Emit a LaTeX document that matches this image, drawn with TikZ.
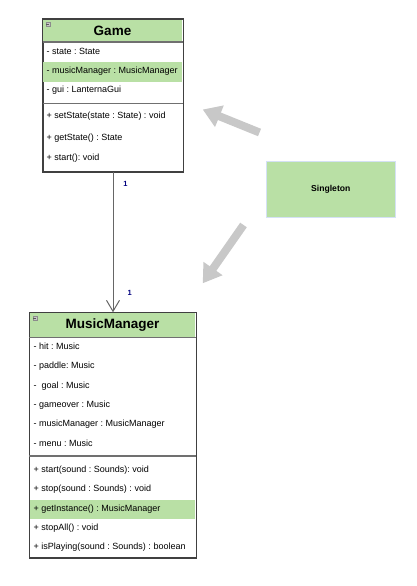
\documentclass[tikz,border=0pt]{standalone}
\usepackage{fontspec}
\setmainfont{Liberation Sans}
\usetikzlibrary{arrows.meta}
\definecolor{hdr}{HTML}{B9E0A5}
\definecolor{bord}{HTML}{404040}
\definecolor{sepc}{HTML}{707070}
\definecolor{blk}{HTML}{C8C8C8}
\definecolor{lbl}{HTML}{00007F}
\definecolor{sgb}{HTML}{D4E1F5}
\tikzset{
  classbox/.style={draw=bord, line width=1pt, fill=white, inner sep=0, anchor=north west},
  headbox/.style={fill=hdr, inner sep=0, anchor=north west},
  hlrow/.style={fill=hdr, inner sep=0, anchor=north west},
  rowtxt/.style={anchor=west, inner sep=0, font=\fontsize{9}{10}\selectfont},
  titletxt/.style={inner sep=0, font=\fontsize{13.5}{15}\selectfont\bfseries},
  sepline/.style={draw=sepc, line width=1.1pt},
  mult/.style={inner sep=0, text=lbl, font=\fontsize{7.5}{8}\selectfont\bfseries},
  blockarrow/.style={draw=blk, line width=8pt, -{Triangle[length=18pt,width=22pt]}},
  icon/.style={fill=black!22, draw=black!45, line width=0.5pt, inner sep=0, minimum size=4.5pt, anchor=north west},
  assoc/.style={draw=black!60, line width=1pt, -{Straight Barb[length=11pt,width=13pt]}}
}
\begin{document}
\frenchspacing
\begin{tikzpicture}[x=1pt,y=-1pt]
\useasboundingbox[fill=white] (0,0) rectangle (417,586);
% ---------- Game ----------
\node[classbox, minimum width=140pt, minimum height=152pt] (game) at (42.5,19) {};
\node[headbox, minimum width=139pt, minimum height=22.5pt] (gamehead) at (43,19.5) {};
\node[hlrow, minimum width=139pt, minimum height=20pt] (gamehl) at (43,62) {};
\draw[bord, line width=1pt] (game.north west) rectangle (game.south east);
\draw[sepline] (42.5,42) -- (182.5,42);
\draw[sepline] (42.5,103.5) -- (182.5,103.5);
\node[icon] (gameicon) at (45.5,22) {};
\draw[black!65, line width=0.7pt] (46.4,24.25) -- (49.1,24.25);
\node[titletxt] (gametitle) at (112.5,30.5) {Game};
\node[rowtxt] (g1) at (46.5,51.5) {- state : State};
\node[rowtxt] (g2) at (46.5,71.5) {- musicManager : MusicManager};
\node[rowtxt] (g3) at (46.5,90.5) {- gui : LanternaGui};
\node[rowtxt] (g4) at (46.5,116.5) {+ setState(state : State) : void};
\node[rowtxt] (g5) at (46.5,138) {+ getState() : State};
\node[rowtxt] (g6) at (46.5,158) {+ start(): void};
% ---------- MusicManager ----------
\node[classbox, minimum width=166.4pt, minimum height=244.7pt] (mm) at (29.3,312.3) {};
\node[headbox, minimum width=165.4pt, minimum height=25pt] (mmhead) at (29.8,312.8) {};
\node[hlrow, minimum width=165.4pt, minimum height=19pt] (mmhl) at (29.8,499.3) {};
\draw[bord, line width=1pt] (mm.north west) rectangle (mm.south east);
\draw[sepline] (29.3,337.7) -- (195.7,337.7);
\draw[sepline] (29.3,456) -- (195.7,456);
\node[icon] (mmicon) at (32.5,315.7) {};
\draw[black!65, line width=0.7pt] (33.4,317.95) -- (36.1,317.95);
\node[titletxt] (mmtitle) at (112.5,325) {MusicManager};
\node[rowtxt] (m1) at (33.5,346.7) {- hit : Music};
\node[rowtxt] (m2) at (33.5,365.7) {- paddle: Music};
\node[rowtxt] (m3) at (33.5,385.7) {-\ \ goal : Music};
\node[rowtxt] (m4) at (33.5,404.7) {- gameover : Music};
\node[rowtxt] (m5) at (33.5,424.3) {- musicManager : MusicManager};
\node[rowtxt] (m6) at (33.5,443.3) {- menu : Music};
\node[rowtxt] (m7) at (33.5,470) {+ start(sound : Sounds): void};
\node[rowtxt] (m8) at (33.5,488.7) {+ stop(sound : Sounds) : void};
\node[rowtxt] (m9) at (33.5,508.7) {+ getInstance() : MusicManager};
\node[rowtxt] (m10) at (33.5,528) {+ stopAll() : void};
\node[rowtxt] (m11) at (33.5,547.3) {+ isPlaying(sound : Sounds) : boolean};
% ---------- association ----------
\draw[assoc] (game.south) -- (mm.north);
\node[mult] (mult1) at (125.5,183.5) {1};
\node[mult] (mult2) at (129.8,293.3) {1};
% ---------- Singleton ----------
\node[draw=sgb, fill=hdr, line width=0.8pt, minimum width=128.3pt, minimum height=56pt, inner sep=0,
      font=\fontsize{8.6}{10}\selectfont\bfseries] (single) at (330.8,189.7) {Singleton};
\coordinate (a1s) at (259.5,132.5);
\coordinate (a1e) at (202.7,109.5);
\coordinate (a2s) at (243.5,225);
\coordinate (a2e) at (202.7,283.3);
\draw[blockarrow] (a1s) -- (a1e);
\draw[blockarrow] (a2s) -- (a2e);
\end{tikzpicture}
\end{document}
